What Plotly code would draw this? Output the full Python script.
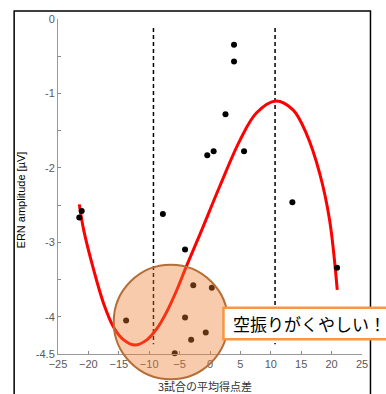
import plotly.graph_objects as go

# Scatter data (score difference vs ERN amplitude)
score_diff = [-21.5, -21.1, -13.8, -7.75, -5.8, -4.1, -4.1, -3.1, -2.75, -0.7, 0.3,
              -0.45, 0.6, 2.55, 3.95, 3.95, 5.6, 13.55, 20.9]
ern_amp = [-2.665, -2.58, -4.05, -2.62, -4.49, -3.095, -4.01, -4.31, -3.575, -4.21, -3.61,
           -1.83, -1.775, -1.28, -0.345, -0.57, -1.775, -2.46, -3.34]

# Fitted curve
fit_x = [-21.5, -20.77, -19.13, -17.5, -15.85, -14.2, -12.3, -10.38, -8.74, -7.1, -5.46,
         -3.82, -1.64, 1.64, 4.92, 7.66, 10.82, 13.66, 15.85, 18.03, 19.67, 20.93]
fit_y = [-2.49, -2.836, -3.37, -3.82, -4.14, -4.31, -4.38, -4.31, -4.16, -3.93, -3.64,
         -3.31, -2.89, -2.24, -1.63, -1.26, -1.10, -1.22, -1.54, -2.07, -2.70, -3.64]

# Vertical reference lines
vline_x = [-9.3, 10.7]
vline_y = [-0.12, -4.37]

x_ticks = [-25, -20, -15, -10, -5, 0, 5, 10, 15, 20, 25]
y_ticks = [0, -0.5, -1, -1.5, -2, -2.5, -3, -3.5, -4, -4.5]
y_ticktext = ["0", "", "-1", "", "-2", "", "-3", "", "-4", "-4.5"]

x_title = "3試合の平均得点差"
y_title = "ERN amplitude [µV]"
callout = "空振りがくやしい！"

W, H = 386, 394
L, R, T, B = 57.5, 23.5, 19, 39.7
pw, ph = W - L - R, H - T - B

def px(x):
    return (x - L) / pw

def py(y):
    return (H - B - y) / ph

fig = go.Figure()

for vx in vline_x:
    fig.add_trace(go.Scatter(x=[vx, vx], y=vline_y, mode="lines",
                             line=dict(color="black", width=1.5, dash="4px,3px"),
                             hoverinfo="skip", showlegend=False))

fig.add_trace(go.Scatter(x=fit_x, y=fit_y, mode="lines", line_shape="spline",
                         line=dict(color="#ff0000", width=3, smoothing=1.0), showlegend=False))

fig.add_trace(go.Scatter(x=score_diff, y=ern_amp, mode="markers",
                         marker=dict(color="black", size=6), showlegend=False, cliponaxis=False))

font_ax = dict(family="Liberation Sans, Arial", size=11, color="#595959")

fig.update_xaxes(range=[-25, 25], tickvals=x_ticks, ticks="inside", ticklen=3,
                 tickcolor="#888888", showline=True, linecolor="#999999", linewidth=1,
                 showgrid=False, zeroline=False, tickfont=font_ax)
fig.update_yaxes(range=[-4.5, 0], tickvals=y_ticks, ticktext=y_ticktext, ticks="inside",
                 ticklen=3, tickcolor="#888888", showline=True, linecolor="#999999",
                 linewidth=1, showgrid=False, zeroline=False, tickfont=font_ax)

shapes = [
    # outer frame
    dict(type="rect", xref="paper", yref="paper", x0=px(13.5), x1=px(371), y0=py(400), y1=py(11),
         line=dict(color="black", width=1.5), fillcolor="rgba(0,0,0,0)", layer="above"),
    # highlight circle
    dict(type="circle", xref="paper", yref="paper", x0=px(113.4), x1=px(228), y0=py(379.6), y1=py(265),
         line=dict(color="rgb(180,110,55)", width=2), fillcolor="rgba(237,125,49,0.4)", layer="above"),
    # callout box
    dict(type="rect", xref="paper", yref="paper", x0=px(223.5), x1=px(392), y0=py(339.5), y1=py(308),
         line=dict(color="#F79646", width=2.5), fillcolor="white", layer="above"),
]

annotations = [
    dict(text=callout, xref="paper", yref="paper", x=px(231), y=py(323.5), xanchor="left",
         yanchor="middle", showarrow=False,
         font=dict(family="Noto Sans CJK JP", size=17, color="black")),
    dict(text=x_title, xref="paper", yref="paper", x=px(205), y=py(386), xanchor="center",
         yanchor="middle", showarrow=False,
         font=dict(family="Noto Sans CJK JP", size=11, color="#333333")),
    dict(text=y_title, xref="paper", yref="paper", x=px(20), y=py(200), xanchor="center",
         yanchor="middle", showarrow=False, textangle=-90,
         font=dict(family="Liberation Sans, Arial", size=11, color="black")),
]

fig.update_layout(width=W, height=H, margin=dict(l=L, r=R, t=T, b=B, pad=0),
                  plot_bgcolor="white", paper_bgcolor="white",
                  shapes=shapes, annotations=annotations, showlegend=False)

fig.write_html("out.html", config={"displayModeBar": False},
               post_script="document.body.style.margin='0';document.body.style.overflow='hidden';")
